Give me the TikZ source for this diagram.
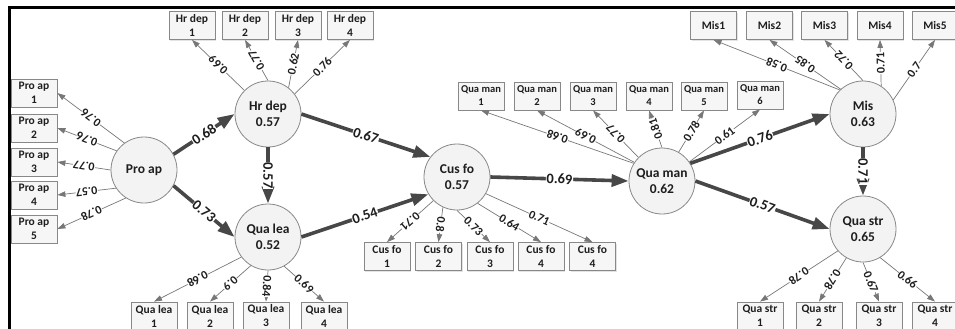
\documentclass[tikz,border=0pt]{standalone}
\usepackage{fontspec}
\setmainfont{Carlito}
\usetikzlibrary{arrows.meta,shadows}

\definecolor{edgedark}{HTML}{474747}
\definecolor{edgelight}{HTML}{777777}
\definecolor{nodeline}{HTML}{888888}
\definecolor{nodefill}{HTML}{F3F3F3}
\definecolor{boxfill}{HTML}{F6F6F6}
\definecolor{txt}{HTML}{1E1E1E}

\begin{document}
\begin{tikzpicture}[x=1pt,y=-1pt,
  latent/.style={circle, draw=nodeline, fill=nodefill, line width=0.8pt,
    minimum size=66pt, inner sep=0pt, align=center,
    font=\fontsize{13.5}{16}\selectfont\bfseries, text=txt},
  indicator/.style={rectangle, draw=nodeline, fill=boxfill, line width=0.8pt,
    minimum width=46pt, minimum height=28pt, inner sep=0pt, align=center,
    font=\fontsize{11.5}{14}\selectfont\bfseries, text=txt,
    drop shadow={shadow xshift=1.2pt, shadow yshift=-1.2pt, opacity=0.22}},
  smallbox/.style={indicator, font=\fontsize{10.5}{13}\selectfont\bfseries},
  structural/.style={draw=edgedark, line width=3.6pt,
    -{Triangle[length=17pt,width=12pt]}},
  loading/.style={draw=edgelight, line width=0.7pt,
    -{Triangle[length=8pt,width=5.5pt]}},
  biglbl/.style={sloped, allow upside down, fill=white, inner sep=0.6pt,
    font=\fontsize{14.5}{14.5}\selectfont\bfseries, text=txt},
  smalllbl/.style={sloped, allow upside down, fill=white, inner sep=0.4pt,
    font=\fontsize{12}{12}\selectfont\bfseries, text=txt},
]
\useasboundingbox (0,0) rectangle (955,329);
\clip (0,0) rectangle (955,329);

% latent constructs
\node[latent] (pa)  at (144,170) {Pro ap};
\node[latent] (hr)  at (268,114) {Hr dep\\0.57};
\node[latent] (ql)  at (268,237) {Qua lea\\0.52};
\node[latent] (cf)  at (457,177) {Cus fo\\0.57};
\node[latent] (qm)  at (662,181) {Qua man\\0.62};
\node[latent] (mis) at (863,114) {Mis\\0.63};
\node[latent] (qs)  at (863,229) {Qua str\\0.65};

% indicators
\node[indicator] (pb1) at (34,93)  {Pro ap\\1};
\node[indicator] (pb2) at (34,128) {Pro ap\\2};
\node[indicator] (pb3) at (34,162) {Pro ap\\3};
\node[indicator] (pb4) at (34,195) {Pro ap\\4};
\node[indicator] (pb5) at (34,229) {Pro ap\\5};

\node[indicator] (hb1) at (192,25.5) {Hr dep\\1};
\node[indicator] (hb2) at (245,25.5) {Hr dep\\2};
\node[indicator] (hb3) at (298,25.5) {Hr dep\\3};
\node[indicator] (hb4) at (350,25.5) {Hr dep\\4};

\node[indicator] (lb1) at (154,316) {Qua lea\\1};
\node[indicator] (lb2) at (210,316) {Qua lea\\2};
\node[indicator] (lb3) at (266,316) {Qua lea\\3};
\node[indicator] (lb4) at (324,316) {Qua lea\\4};

\node[indicator] (cb1) at (387,256.5)   {Cus fo\\1};
\node[indicator] (cb2) at (438.5,256.5) {Cus fo\\2};
\node[indicator] (cb3) at (490,256.5)   {Cus fo\\3};
\node[indicator] (cb4) at (541,256.5)   {Cus fo\\4};
\node[indicator] (cb5) at (592.5,256.5) {Cus fo\\4};

\node[smallbox] (qb1) at (481,96) {Qua man\\1};
\node[smallbox] (qb2) at (537,96) {Qua man\\2};
\node[smallbox] (qb3) at (593,96) {Qua man\\3};
\node[smallbox] (qb4) at (649,96) {Qua man\\4};
\node[smallbox] (qb5) at (704,96) {Qua man\\5};
\node[smallbox] (qb6) at (760,95) {Qua man\\6};

\node[indicator] (mb1) at (713.5,25.5) {Mis1};
\node[indicator] (mb2) at (769.5,25.5) {Mis2};
\node[indicator] (mb3) at (824.5,25.5) {Mis3};
\node[indicator] (mb4) at (880,25.5)   {Mis4};
\node[indicator] (mb5) at (935,25.5)   {Mis5};

\node[indicator] (sb1) at (760,316) {Qua str\\1};
\node[indicator] (sb2) at (819,316) {Qua str\\2};
\node[indicator] (sb3) at (879,316) {Qua str\\3};
\node[indicator] (sb4) at (935,316) {Qua str\\4};

% outer loadings
\draw[loading] (pa.126) -- node[smalllbl]{0.76} (pb1.east);
\draw[loading] (pa.145) -- node[smalllbl]{0.76} (pb2.east);
\draw[loading] (pa.180) -- node[smalllbl]{0.77} (pb3.east);
\draw[loading] (pa.213) -- node[smalllbl]{0.57} (pb4.east);
\draw[loading] (pa.237) -- node[smalllbl]{0.78} (pb5.east);

\draw[loading] (hr.135) -- node[smalllbl]{0.69} (hb1.south);
\draw[loading] (hr.90)  -- node[smalllbl]{0.77} (hb2.south);
\draw[loading] (hr.52)  -- node[smalllbl]{0.62} (hb3.south);
\draw[loading] (hr.37)  -- node[smalllbl]{0.76} (hb4.south);

\draw[loading] (ql.217) -- node[smalllbl]{0.68} (lb1.north);
\draw[loading] (ql.239) -- node[smalllbl]{0.9}  (lb2.north);
\draw[loading] (ql.270) -- node[smalllbl]{0.84} (lb3.north);
\draw[loading] (ql.299) -- node[smalllbl]{0.69} (lb4.north);

\draw[loading] (cf.225) -- node[smalllbl]{0.71} (cb1.north);
\draw[loading] (cf.245) -- node[smalllbl]{0.8}  (cb2.north);
\draw[loading] (cf.270) -- node[smalllbl]{0.73} (cb3.north);
\draw[loading] (cf.308) -- node[smalllbl]{0.64} (cb4.north);
\draw[loading] (cf.330) -- node[smalllbl]{0.71} (cb5.north);

\draw[loading] (qm.148) -- node[smalllbl]{0.68} (qb1.south);
\draw[loading] (qm.146) -- node[smalllbl]{0.69} (qb2.south);
\draw[loading] (qm.135) -- node[smalllbl]{0.77} (qb3.south);
\draw[loading] (qm.90)  -- node[smalllbl]{0.81} (qb4.south);
\draw[loading] (qm.60)  -- node[smalllbl]{0.78} (qb5.south);
\draw[loading] (qm.35)  -- node[smalllbl]{0.61} (qb6.south);

\draw[loading] (mis.134) -- node[smalllbl]{0.58} (mb1.south);
\draw[loading] (mis.132) -- node[smalllbl]{0.85} (mb2.south);
\draw[loading] (mis.90)  -- node[smalllbl]{0.72} (mb3.south);
\draw[loading] (mis.57)  -- node[smalllbl]{0.71} (mb4.south);
\draw[loading] (mis.25)  -- node[smalllbl]{0.7}  (mb5.south);

\draw[loading] (qs.221) -- node[smalllbl]{0.78} (sb1.north);
\draw[loading] (qs.240) -- node[smalllbl]{0.78} (sb2.north);
\draw[loading] (qs.270) -- node[smalllbl]{0.67} (sb3.north);
\draw[loading] (qs.301) -- node[smalllbl]{0.66} (sb4.north);

% structural paths
\draw[structural] (pa.28)   -- node[biglbl]{0.68} (hr.180);
\draw[structural] (pa.-28)  -- node[biglbl]{0.73} (ql.180);
\draw[structural] (hr.south) -- node[biglbl]{0.57} (ql.north);
\draw[structural] (hr.0)    -- node[biglbl]{0.67} (cf.143);
\draw[structural] (ql.0)    -- node[biglbl]{0.54} (cf.211);
\draw[structural] (cf.0)    -- node[biglbl]{0.69} (qm.180);
\draw[structural] (qm.32)   -- node[biglbl]{0.76} (mis.180);
\draw[structural] (qm.0)    -- node[biglbl]{0.57} (qs.180);
\draw[structural] (mis.south) -- node[biglbl]{0.71} (qs.north);

% frame
\draw[line width=3pt, black] (9,340) -- (9,7.5) -- (965,7.5);
\end{tikzpicture}
\end{document}
